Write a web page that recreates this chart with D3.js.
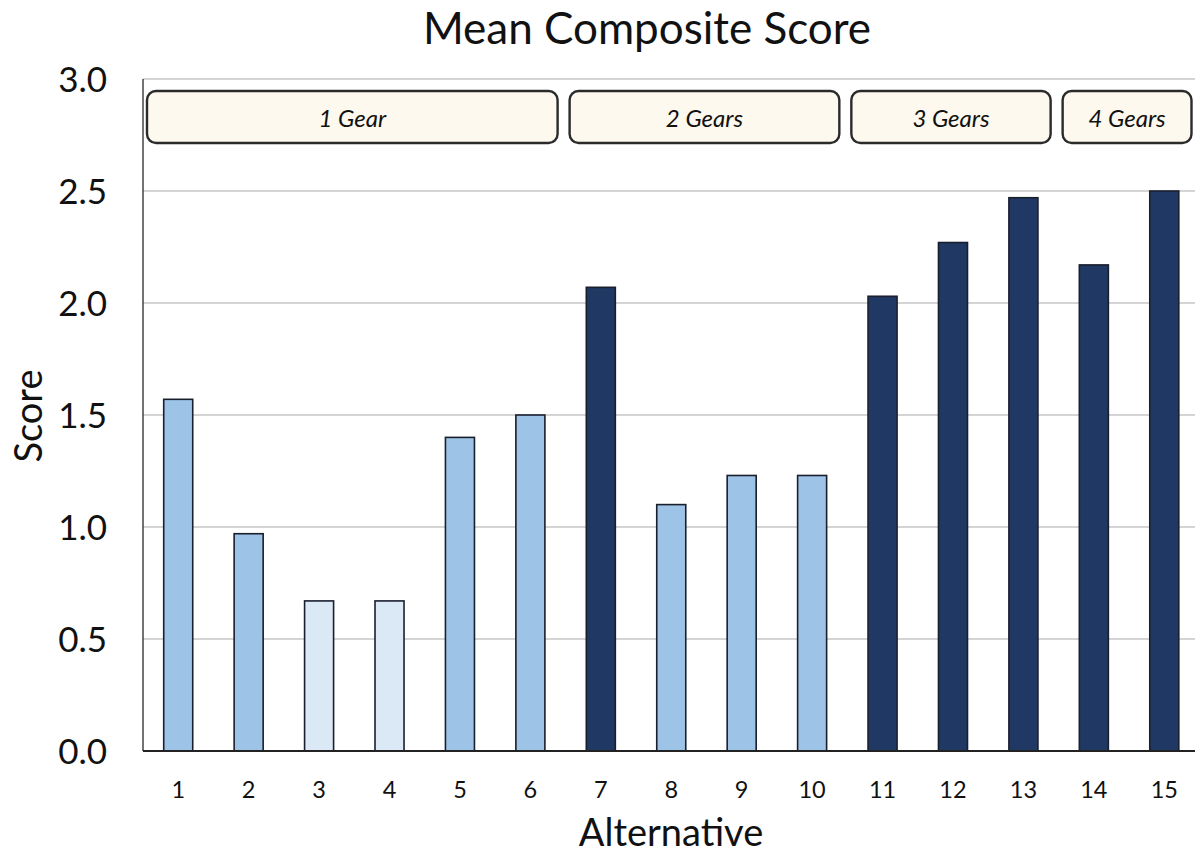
<!DOCTYPE html>
<html>
<head>
<meta charset="utf-8">
<script src="https://cdn.jsdelivr.net/npm/d3@7"></script>
<style>
  html, body { margin: 0; padding: 0; background: #fff; }
  svg { display: block; }
  text { font-family: Lato, "Open Sans", sans-serif; fill: #111; }
</style>
</head>
<body>
<svg id="chart" width="1195" height="856"></svg>
<script>
// Mean composite score per alternative
const alternatives = [1, 2, 3, 4, 5, 6, 7, 8, 9, 10, 11, 12, 13, 14, 15];
const scores = [1.57, 0.97, 0.67, 0.67, 1.40, 1.50, 2.07, 1.10, 1.23, 1.23, 2.03, 2.27, 2.47, 2.17, 2.50];

// Gear groupings shown as labelled boxes across the top
const groupLabels = ["1 Gear", "2 Gears", "3 Gears", "4 Gears"];
const groupStart = [1, 7, 11, 14];
const groupEnd = [6, 10, 13, 15];

const yTicks = [0, 0.5, 1.0, 1.5, 2.0, 2.5, 3.0];

const svg = d3.select("#chart");
const W = 1195, H = 856;
const plot = { left: 143, right: 1199.5, top: 79, bottom: 751 };

const x = d3.scaleBand()
  .domain(alternatives)
  .range([plot.left, plot.right])
  .paddingInner(0.588)
  .paddingOuter(0.294);

const y = d3.scaleLinear().domain([0, 3]).range([plot.bottom, plot.top]);

// Bar shading by score level
const color = d3.scaleThreshold()
  .domain([0.8, 1.8])
  .range(["#dbe8f6", "#9dc3e6", "#1f3864"]);

// Gridlines
svg.append("g")
  .selectAll("line")
  .data(yTicks.filter(d => d > 0))
  .join("line")
  .attr("x1", plot.left)
  .attr("x2", W)
  .attr("y1", d => y(d))
  .attr("y2", d => y(d))
  .attr("stroke", "#c6c6c6")
  .attr("stroke-width", 1.5);

// Y axis tick labels
const yAxis = d3.axisLeft(y).tickValues(yTicks).tickFormat(d3.format(".1f")).tickSize(0).tickPadding(0);
const gy = svg.append("g").attr("transform", `translate(107,0)`).call(yAxis);
gy.select(".domain").remove();
gy.selectAll("text")
  .attr("font-size", 35)
  .attr("font-family", "Lato, sans-serif")
  .attr("fill", "#111")
  .attr("dy", "0.36em");

// Bars
svg.append("g")
  .selectAll("rect")
  .data(alternatives.map((a, i) => ({ a, v: scores[i] })))
  .join("rect")
  .attr("x", d => x(d.a))
  .attr("width", x.bandwidth())
  .attr("y", d => y(d.v))
  .attr("height", d => y(0) - y(d.v))
  .attr("fill", d => color(d.v))
  .attr("stroke", "#1a1f2e")
  .attr("stroke-width", 1.6);

// Axis lines
svg.append("line")
  .attr("x1", plot.left).attr("x2", plot.left)
  .attr("y1", plot.top).attr("y2", plot.bottom)
  .attr("stroke", "#444").attr("stroke-width", 1.5);
svg.append("line")
  .attr("x1", plot.left).attr("x2", W)
  .attr("y1", plot.bottom).attr("y2", plot.bottom)
  .attr("stroke", "#222").attr("stroke-width", 1.8);

// X axis tick labels
const xAxis = d3.axisBottom(x).tickSize(0).tickPadding(0);
const gx = svg.append("g").attr("transform", `translate(0,${plot.bottom})`).call(xAxis);
gx.select(".domain").remove();
gx.selectAll("text")
  .attr("font-size", 23.5)
  .attr("font-family", "Lato, sans-serif")
  .attr("fill", "#222")
  .attr("dy", null)
  .attr("y", 47);

// Gear group boxes
const gap = (x.step() - x.bandwidth()) / 2;
const boxes = groupLabels.map((label, i) => {
  const x0 = x(groupStart[i]) - gap + 4;
  const x1 = x(groupEnd[i]) + x.bandwidth() + gap - 8;
  return { label, x0, x1 };
});
const gb = svg.append("g");
gb.selectAll("rect")
  .data(boxes)
  .join("rect")
  .attr("x", d => d.x0)
  .attr("y", 91)
  .attr("width", d => d.x1 - d.x0)
  .attr("height", 52)
  .attr("rx", 9)
  .attr("fill", "#fdf9ee")
  .attr("stroke", "#2b2b2b")
  .attr("stroke-width", 2.4);
gb.selectAll("text")
  .data(boxes)
  .join("text")
  .attr("x", d => (d.x0 + d.x1) / 2)
  .attr("y", 127)
  .attr("text-anchor", "middle")
  .attr("font-size", 24)
  .attr("font-style", "italic")
  .attr("fill", "#2a2a2a")
  .text(d => d.label);

// Titles
svg.append("text")
  .attr("x", 647).attr("y", 44)
  .attr("text-anchor", "middle")
  .attr("font-size", 44)
  .text("Mean Composite Score");

svg.append("text")
  .attr("x", 671).attr("y", 846)
  .attr("text-anchor", "middle")
  .attr("font-size", 38)
  .text("Alternative");

svg.append("text")
  .attr("transform", "translate(42,416) rotate(-90)")
  .attr("text-anchor", "middle")
  .attr("font-size", 38)
  .text("Score");
</script>
</body>
</html>
